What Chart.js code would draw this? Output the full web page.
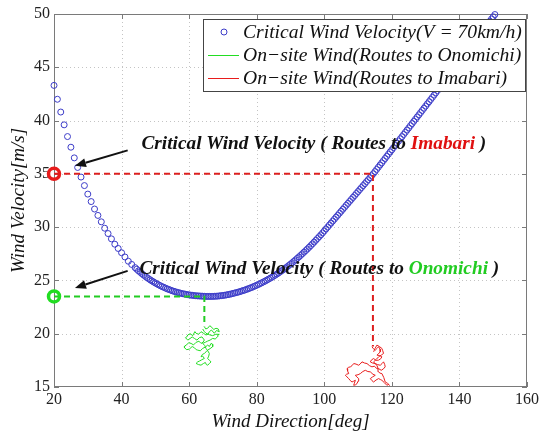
<!DOCTYPE html>
<html><head><meta charset="utf-8">
<script src="https://cdn.jsdelivr.net/npm/chart.js@4.4.0/dist/chart.umd.min.js"></script>
<style>html,body{margin:0;padding:0;background:#fff;} #c{display:block;}</style>
</head><body>
<canvas id="c" width="542" height="436"></canvas>
<script>
// ---------- data ----------
const xTicks = [20, 40, 60, 80, 100, 120, 140, 160];
const yTicks = [15, 20, 25, 30, 35, 40, 45, 50];

const critDirection = [
  20,21,22,23,24,25,26,27,28,29,30,31,32,33,34,35,36,37,38,39,40,41,42,43,44,
  44.5,45,45.5,46,46.5,47,47.5,48,48.5,49,49.5,50,
  50.5,51,51.5,52,52.5,53,53.5,54,54.5,55,55.5,56,56.5,57,57.5,58,58.5,59,59.5,60,
  60.5,61,61.5,62,62.5,63,63.5,64,64.5,65,65.5,66,66.5,67,67.5,68,68.5,69,69.5,70,
  70.5,71,71.5,72,72.5,73,73.5,74,74.5,75,75.5,76,76.5,77,77.5,78,78.5,79,79.5,80,
  80.5,81,81.5,82,82.5,83,83.5,84,84.5,85,85.5,86,86.5,87,87.5,88,88.5,89,89.5,90,
  90.5,91,91.5,92,92.5,93,93.5,94,94.5,95,95.5,96,96.5,97,97.5,98,98.5,99,99.5,100,
  100.5,101,101.5,102,102.5,103,103.5,104,104.5,105,105.5,106,106.5,107,107.5,108,108.5,109,109.5,110,
  110.5,111,111.5,112,112.5,113,113.5,114,114.5,115,115.5,116,116.5,117,117.5,118,118.5,119,119.5,120,
  120.5,121,121.5,122,122.5,123,123.5,124,124.5,125,125.5,126,126.5,127,127.5,128,128.5,129,129.5,130,
  130.5,131,131.5,132,132.5,133,133.5,134,134.5,135,135.5,136,136.5,137,137.5,138,138.5,139,139.5,140,
  140.5,141,141.5,142,142.5,143,143.5,144,144.5,145,145.5,146,146.5,147,147.5,148,148.5,149,149.5,150,
  150.5
];
const critVelocity = [
  43.3,42.0,40.8,39.6,38.5,37.5,36.5,35.6,34.7,33.9,33.1,32.4,31.7,31.1,30.5,29.9,29.4,28.9,28.4,28.0,27.6,27.2,26.8,26.5,26.2,
  26.05,25.9,25.77,25.64,25.51,25.39,25.27,25.16,25.05,24.95,24.85,24.76,
  24.67,24.58,24.5,24.42,24.35,24.28,24.21,24.15,24.09,24.03,23.98,23.93,23.88,23.84,23.8,23.76,23.73,23.7,23.67,23.64,
  23.62,23.6,23.58,23.56,23.55,23.54,23.53,23.52,23.51,23.5,23.5,23.5,23.5,23.5,23.51,23.52,23.53,23.55,23.57,23.59,
  23.61,23.64,23.67,23.7,23.74,23.78,23.82,23.86,23.9,23.95,24.0,24.05,24.1,24.16,24.22,24.28,24.34,24.41,24.48,24.55,
  24.62,24.7,24.78,24.86,24.94,25.03,25.12,25.21,25.3,25.4,25.5,25.6,25.71,25.82,25.93,26.04,26.16,26.28,26.4,26.53,
  26.66,26.79,26.93,27.07,27.21,27.35,27.5,27.65,27.8,27.95,28.11,28.27,28.43,28.6,28.77,28.94,29.11,29.28,29.46,29.64,
  29.83,30.01,30.2,30.38,30.57,30.75,30.94,31.12,31.31,31.49,31.68,31.86,32.05,32.23,32.42,32.6,32.79,32.97,33.16,33.34,
  33.53,33.71,33.9,34.08,34.27,34.45,34.64,34.82,35.01,35.21,35.42,35.62,35.83,36.03,36.24,36.44,36.65,36.85,37.06,37.26,
  37.47,37.67,37.88,38.08,38.29,38.49,38.7,38.9,39.11,39.31,39.52,39.72,39.93,40.13,40.34,40.54,40.75,40.95,41.16,41.36,
  41.57,41.77,41.98,42.18,42.39,42.6,42.81,43.02,43.23,43.44,43.65,43.86,44.07,44.28,44.49,44.7,44.91,45.12,45.33,45.54,
  45.75,45.96,46.17,46.38,46.59,46.8,47.01,47.22,47.43,47.64,47.85,48.06,48.27,48.48,48.69,48.9,49.11,49.32,49.53,49.74,
  49.95
];

const onomichiDirection = [
  64.5,64.9,65.48,66.1,66.47,67.3,67.94,68.6,68.92,68.1,67.45,66.6,65.97,65.6,64.99,64.2,63.52,62.8,62.05,61.7,
  61.06,60.3,59.59,59.3,58.9,59.6,60.08,60.9,61.56,62.3,63.03,63.8,64.5,64.1,63.52,62.9,62.05,61.3,60.57,59.9,
  59.1,58.7,58.61,59.3,60.08,60.9,61.56,62.1,62.54,63.3,64.01,64.8,65.48,66.0,66.47,67.0,66.96,66.2,65.48,65.0,
  64.5,63.9,63.52,64.0,64.5,63.7,63.03,62.5,62.05,62.8,63.52,64.2,64.8,65.1,65.48,66.0,66.47,66.0,65.48,65.8,
  65.97,65.5,64.99,64.6,64.01,64.8,65.48,66.2,66.96,67.7,68.43,68.5,68.92,67.9,66.96,66.0,64.99,64.5,64.01
];
const onomichiVelocity = [
  20.66,20.45,20.51,20.75,20.66,20.4,20.51,20.45,20.19,20.3,20.04,20.35,20.19,19.95,19.88,20.05,20.19,19.95,20.04,20.2,
  19.82,20.0,19.88,19.7,19.63,19.4,19.5,19.7,19.56,19.4,19.63,19.7,19.41,19.2,19.09,19.3,19.19,18.95,19.09,19.15,
  18.93,18.85,18.68,18.5,18.56,18.8,18.68,18.5,18.46,18.4,18.62,18.75,18.93,18.8,19.09,19.0,18.78,18.6,18.46,18.3,
  18.15,18.05,17.83,17.9,17.68,17.55,17.43,17.35,17.21,17.1,17.05,17.2,17.3,17.1,17.05,17.2,17.36,17.5,17.68,17.9,
  18.15,18.4,18.62,18.9,19.09,19.2,19.31,19.4,19.56,19.5,19.72,19.9,19.94,19.95,19.82,19.9,20.04,20.2,20.44
];

const imabariDirection = [
  114.11,114.5,115.09,115.7,116.07,116.5,116.56,116.0,115.58,116.4,117.05,116.7,116.07,115.3,114.6,114.0,113.62,114.3,115.09,115.8,
  116.56,117.1,117.54,117.9,118.03,117.5,116.86,116.2,115.58,114.8,114.11,113.4,112.63,111.9,111.16,110.6,110.18,109.4,108.71,108.2,
  107.72,107.2,106.74,106.9,107.23,106.6,106.25,106.7,107.23,107.7,108.21,108.7,109.2,108.9,108.71,109.2,109.69,110.0,110.18,109.6,
  109.2,110.0,110.67,111.4,112.14,112.9,113.62,114.4,115.09,114.3,113.62,114.1,114.6,115.3,116.07,116.6,117.05,117.8,118.53,119.0,
  119.3,118.7,118.03,117.6,117.05,116.5,116.07,115.9,115.58,115.0,114.6,115.4,116.07,116.9,117.54,117.3,117.05,116.3,115.58,115.0,
  114.6
];
const imabariVelocity = [
  18.78,18.6,18.46,18.65,18.78,18.55,18.3,18.1,17.99,17.95,17.83,17.65,17.52,17.5,17.67,17.55,17.36,17.25,17.2,17.1,
  17.04,17.2,17.36,17.1,16.89,16.7,16.57,16.7,16.73,16.95,16.89,17.0,17.2,17.25,17.36,17.15,17.04,17.15,17.2,17.0,
  16.89,16.85,16.73,16.5,16.26,16.2,16.1,15.95,15.79,15.6,15.47,15.55,15.63,15.35,15.16,15.2,15.32,15.55,15.79,15.95,
  16.1,16.15,16.26,16.45,16.57,16.45,16.42,16.2,16.1,15.95,15.79,15.6,15.47,15.65,15.79,15.7,15.63,15.4,15.16,15.25,
  15.16,15.35,15.47,15.9,16.26,16.3,16.42,16.75,17.04,17.2,17.36,17.6,17.83,18.0,18.15,18.4,18.62,18.8,18.93,18.6,
  18.3
];

// critical points for each route: [direction, velocity, end velocity of vertical guide]
const imabariCrit  = [114.4, 35.0, 18.8];
const onomichiCrit = [64.5, 23.5, 20.7];

const legendLabels = ['Critical Wind Velocity(V = 70km/h)', 'On\u2212site Wind(Routes to Onomichi)', 'On\u2212site Wind(Routes to Imabari)'];
const axisTitles = {x: 'Wind Direction[deg]', y: 'Wind Velocity[m/s]'};

// ---------- styles ----------
const serif = "'Liberation Serif','Times New Roman',serif";
const curveColor = '#3c3cc8';
const greenColor = '#22dd22';
const redColor = '#e81c1c';

const zip = (a, b) => a.map((v, i) => ({x: v, y: b[i]}));

const framePlugin = {
  id: 'frame',
  beforeDatasetsDraw(chart) {
    const {ctx, chartArea: a, scales: {x, y}} = chart;
    ctx.save();
    ctx.lineWidth = 1;
    ctx.strokeStyle = '#c4c4c4';
    ctx.setLineDash([1, 3]);
    xTicks.slice(1, -1).forEach(v => {
      const px = Math.round(x.getPixelForValue(v)) + 0.5;
      ctx.beginPath(); ctx.moveTo(px, a.top); ctx.lineTo(px, a.bottom); ctx.stroke();
    });
    yTicks.slice(1, -1).forEach(v => {
      const py = Math.round(y.getPixelForValue(v)) + 0.5;
      ctx.beginPath(); ctx.moveTo(a.left, py); ctx.lineTo(a.right, py); ctx.stroke();
    });
    ctx.setLineDash([]);
    ctx.strokeStyle = '#7a7a7a';
    ctx.strokeRect(a.left + 0.5, a.top + 0.5, a.right - a.left - 1, a.bottom - a.top - 1);
    const t = 5;
    xTicks.forEach(v => {
      const px = Math.round(x.getPixelForValue(v)) + 0.5;
      ctx.beginPath(); ctx.moveTo(px, a.bottom); ctx.lineTo(px, a.bottom - t);
      ctx.moveTo(px, a.top); ctx.lineTo(px, a.top + t); ctx.stroke();
    });
    yTicks.forEach(v => {
      const py = Math.round(y.getPixelForValue(v)) + 0.5;
      ctx.beginPath(); ctx.moveTo(a.left, py); ctx.lineTo(a.left + t, py);
      ctx.moveTo(a.right, py); ctx.lineTo(a.right - t, py); ctx.stroke();
    });
    ctx.restore();
  }
};

function arrow(ctx, x1, y1, x2, y2) {
  const ang = Math.atan2(y2 - y1, x2 - x1), len = 11, w = 4.5;
  const bx = x2 - len * Math.cos(ang), by = y2 - len * Math.sin(ang);
  ctx.beginPath(); ctx.moveTo(x1, y1); ctx.lineTo(bx, by);
  ctx.lineWidth = 2; ctx.strokeStyle = '#111'; ctx.stroke();
  ctx.beginPath(); ctx.moveTo(x2, y2);
  ctx.lineTo(bx + w * Math.sin(ang), by - w * Math.cos(ang));
  ctx.lineTo(bx - w * Math.sin(ang), by + w * Math.cos(ang));
  ctx.closePath(); ctx.fillStyle = '#111'; ctx.fill();
}

function labelLine(ctx, x0, y0, route, color) {
  ctx.font = `italic bold 19.3px ${serif}`;
  ctx.textBaseline = 'middle';
  ctx.textAlign = 'left';
  const parts = [['Critical Wind Velocity ( Routes to ', '#111'], [route, color], [' )', '#111']];
  let cx = x0;
  parts.forEach(([s, c]) => { ctx.fillStyle = c; ctx.fillText(s, cx, y0); cx += ctx.measureText(s).width; });
}

const notesPlugin = {
  id: 'notes',
  afterDatasetsDraw(chart) {
    const {ctx, scales: {x, y}} = chart;
    ctx.save();
    arrow(ctx, x.getPixelForValue(41.8), y.getPixelForValue(37.2), x.getPixelForValue(26.2), y.getPixelForValue(35.75));
    arrow(ctx, x.getPixelForValue(41.8), y.getPixelForValue(25.9), x.getPixelForValue(26.2), y.getPixelForValue(24.3));
    labelLine(ctx, x.getPixelForValue(45.9), y.getPixelForValue(37.8), 'Imabari', '#e01010');
    labelLine(ctx, x.getPixelForValue(45.3), y.getPixelForValue(26.1), 'Onomichi', '#22cc22');

    // legend box
    const L = 203, T = 19, R = 525, B = 91;
    ctx.fillStyle = '#fff'; ctx.fillRect(L, T, R - L, B - T);
    ctx.strokeStyle = '#444'; ctx.lineWidth = 1; ctx.strokeRect(L + 0.5, T + 0.5, R - L, B - T);
    const rows = [32, 55, 78];
    ctx.beginPath(); ctx.arc(224, rows[0], 3, 0, Math.PI * 2);
    ctx.strokeStyle = curveColor; ctx.stroke();
    ctx.lineWidth = 1;
    ctx.beginPath(); ctx.moveTo(208, rows[1] + 0.5); ctx.lineTo(239, rows[1] + 0.5); ctx.strokeStyle = greenColor; ctx.stroke();
    ctx.beginPath(); ctx.moveTo(208, rows[2] + 0.5); ctx.lineTo(239, rows[2] + 0.5); ctx.strokeStyle = redColor; ctx.stroke();
    ctx.font = `italic 19.6px ${serif}`; ctx.fillStyle = '#111'; ctx.textBaseline = 'middle'; ctx.textAlign = 'left';
    legendLabels.forEach((s, i) => ctx.fillText(s, 243, rows[i] + 1));
    ctx.restore();
  }
};

new Chart(document.getElementById('c'), {
  type: 'scatter',
  data: {
    datasets: [
      { label: 'big', data: [{x: 20, y: imabariCrit[1]}], pointRadius: 5.5, pointBorderWidth: 3.5,
        borderColor: redColor, backgroundColor: 'rgba(0,0,0,0)', clip: false, order: 0 },
      { label: 'big2', data: [{x: 20, y: onomichiCrit[1]}], pointRadius: 5.5, pointBorderWidth: 3.5,
        borderColor: greenColor, backgroundColor: 'rgba(0,0,0,0)', clip: false, order: 0 },
      { label: 'guideR', data: [{x: 20, y: imabariCrit[1]}, {x: imabariCrit[0], y: imabariCrit[1]}, {x: imabariCrit[0], y: imabariCrit[2]}],
        showLine: true, pointRadius: 0, borderColor: '#dd2020', borderWidth: 2, borderDash: [6, 4], order: 1 },
      { label: 'guideG', data: [{x: 20, y: onomichiCrit[1]}, {x: onomichiCrit[0], y: onomichiCrit[1]}, {x: onomichiCrit[0], y: onomichiCrit[2]}],
        showLine: true, pointRadius: 0, borderColor: '#22cc22', borderWidth: 2, borderDash: [6, 4], order: 1 },
      { label: legendLabels[0], data: zip(critDirection, critVelocity), pointRadius: 3, pointBorderWidth: 1,
        borderColor: curveColor, backgroundColor: 'rgba(0,0,0,0)', clip: false, order: 2 },
      { label: legendLabels[1], data: zip(onomichiDirection, onomichiVelocity), showLine: true, pointRadius: 0,
        borderColor: greenColor, borderWidth: 1, order: 3 },
      { label: legendLabels[2], data: zip(imabariDirection, imabariVelocity), showLine: true, pointRadius: 0,
        borderColor: redColor, borderWidth: 1, order: 3 }
    ]
  },
  options: {
    responsive: false,
    animation: false,
    events: [],
    layout: { padding: { top: 14, right: 13, left: 0, bottom: 0 } },
    plugins: { legend: { display: false }, tooltip: { enabled: false } },
    scales: {
      x: {
        type: 'linear', min: xTicks[0], max: xTicks[xTicks.length - 1],
        afterBuildTicks: s => { s.ticks = xTicks.map(v => ({value: v})); },
        afterFit: s => { s.height = 49; },
        grid: { display: false, drawTicks: false }, border: { display: false },
        ticks: { font: { family: serif, size: 16 }, color: '#222', padding: 3, maxRotation: 0, autoSkip: false },
        title: { display: true, text: axisTitles.x, font: { family: serif, size: 19, style: 'italic' }, color: '#111', padding: { top: 0, bottom: 3 } }
      },
      y: {
        type: 'linear', min: yTicks[0], max: yTicks[yTicks.length - 1],
        afterBuildTicks: s => { s.ticks = yTicks.map(v => ({value: v})); },
        afterFit: s => { s.width = 54; },
        grid: { display: false, drawTicks: false }, border: { display: false },
        ticks: { font: { family: serif, size: 16 }, color: '#222', padding: 4, autoSkip: false },
        title: { display: true, text: axisTitles.y, font: { family: serif, size: 19, style: 'italic' }, color: '#111', padding: { top: 8, bottom: 0 } }
      }
    }
  },
  plugins: [framePlugin, notesPlugin]
});
</script>
</body></html>
